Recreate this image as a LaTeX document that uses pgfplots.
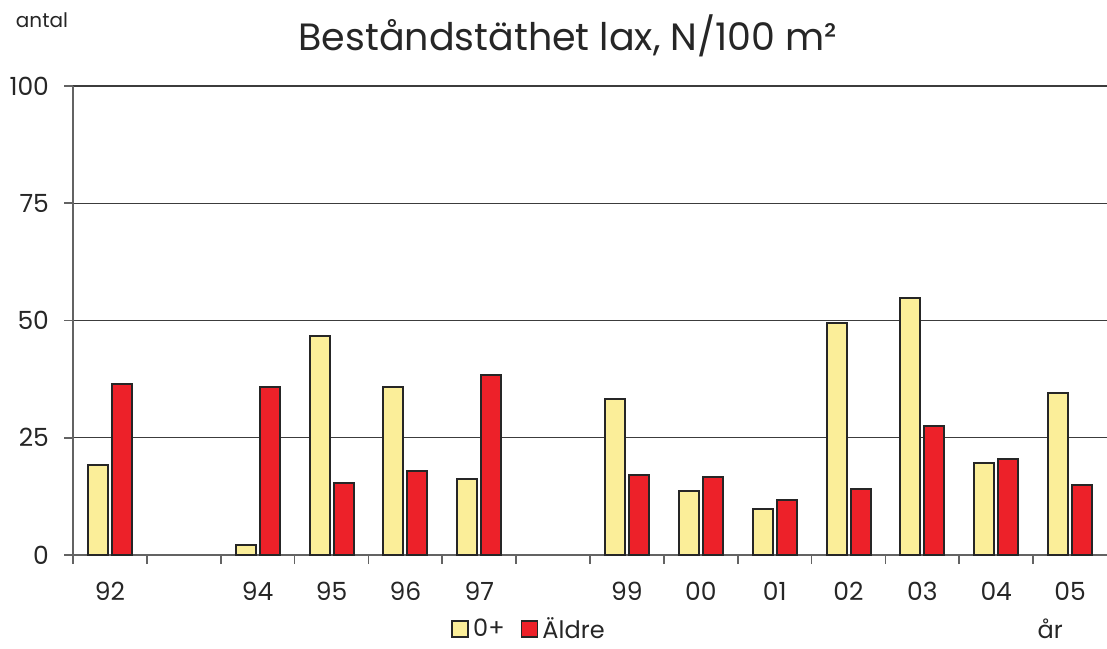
\documentclass[border=0pt]{standalone}
\usepackage{fontspec}
\setmainfont{Poppins}
\usepackage{pgfplots}
\pgfplotsset{compat=1.18}
\definecolor{barY}{RGB}{251,238,153}
\definecolor{barR}{RGB}{237,33,41}
\definecolor{gridc}{RGB}{60,60,60}
\begin{document}
\begin{tikzpicture}
\useasboundingbox (0,0) rectangle (553.5pt,324pt);
\node[font=\fontsize{19}{23}\selectfont, text=black!85] at (284pt,306pt) {Beståndstäthet lax, N/100 m²};
\node[font=\fontsize{10}{12}\selectfont, text=black!85] at (21pt,314pt) {antal};
\begin{axis}[
  at={(36.5pt,46.5pt)}, anchor=south west,
  scale only axis, width=517pt, height=234.5pt,
  xmin=-0.5, xmax=13.5, ymin=0, ymax=100,
  axis x line=bottom, axis y line=left,
  axis line style={-, gridc!80, line width=0.8pt},
  ytick={0,25,50,75,100},
  ymajorgrids, major grid style={gridc, line width=0.6pt},
  xtick={-0.5,0.5,...,12.5},
  xticklabels={},
  extra x ticks={0,2,3,4,5,7,8,9,10,11,12,13},
  extra x tick labels={92,94,95,96,97,99,00,01,02,03,04,05},
  extra x tick style={grid=none, major tick length=0pt, tick style={draw=none}},
  tick style={draw=gridc!80, line width=0.8pt},
  major tick length=4.5pt, tick align=outside,
  tick label style={font=\fontsize{12.5}{14}\selectfont, text=black!85},
  /pgf/number format/assume math mode=true,
  xticklabel style={yshift=-10pt},
  yticklabel style={xshift=-4pt},
  ybar, bar width=10pt,
  legend style={at={(0.442,-0.158)}, anchor=center, draw=none, fill=none,
    legend columns=2, font=\fontsize{12}{13}\selectfont, text=black!85,
    /tikz/every even column/.append style={column sep=6pt}},
  legend image code/.code={\draw[#1, line width=0.9pt] (0pt,-4pt) rectangle (8pt,4pt);},
  clip=false,
]
\addplot[fill=barY, draw=black!85, line width=1pt, bar shift=-6pt] coordinates {
 (0,19.2) (2,2.1) (3,46.8) (4,35.8) (5,16.2) (7,33.3) (8,13.6) (9,9.8) (10,49.4) (11,54.9) (12,19.6) (13,34.5)};
\addplot[fill=barR, draw=black!85, line width=1pt, bar shift=6pt] coordinates {
 (0,36.5) (2,35.8) (3,15.4) (4,17.9) (5,38.4) (7,17.1) (8,16.6) (9,11.7) (10,14.1) (11,27.4) (12,20.5) (13,14.9)};
\legend{0+,Äldre}
\node[font=\fontsize{12}{13}\selectfont, text=black!85] at (rel axis cs:0.945,-0.158) {år};
\end{axis}
\end{tikzpicture}
\end{document}
